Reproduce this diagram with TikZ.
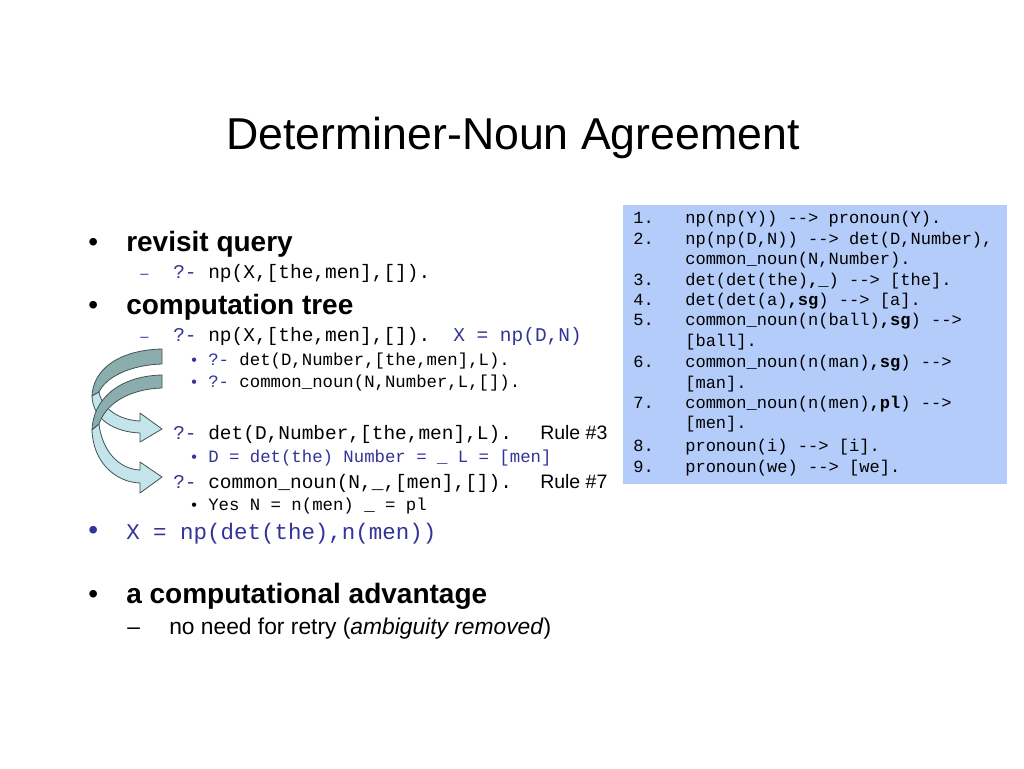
\documentclass[tikz,border=0pt]{standalone}
\usepackage{fontspec}
\setmainfont{Liberation Sans}
\setmonofont{Liberation Mono}

\begin{document}
\begin{tikzpicture}[x=0.75pt,y=-0.75pt,
    txt/.style={anchor=base west,inner sep=0pt},
    titletext/.style={anchor=base,inner sep=0pt,font=\fontsize{33.5}{40}\selectfont},
    headtext/.style={txt,font=\fontsize{21}{25}\selectfont\bfseries},
    bulletone/.style={txt,font=\fontsize{21}{25}\selectfont},
    dashtwo/.style={txt,font=\fontsize{11}{13}\selectfont},
    bulletthree/.style={txt,font=\fontsize{12}{14}\selectfont},
    codeone/.style={txt,font=\fontsize{16.85}{20}\selectfont\ttfamily},
    codetwo/.style={txt,font=\fontsize{14.6}{17}\selectfont\ttfamily},
    codethree/.style={txt,font=\fontsize{13}{15}\selectfont\ttfamily},
    ruletext/.style={txt,font=\fontsize{14.6}{17}\selectfont},
    plaintwo/.style={txt,font=\fontsize{17.1}{20}\selectfont},
    codebox/.style={txt,font=\fontsize{12.8}{15}\selectfont\ttfamily},
    bandback/.style={fill=r140g173b173,draw=r64g84b84,line width=0.6pt,line join=round},
    bandfront/.style={fill=r196g228b236,draw=r64g84b84,line width=0.6pt,line join=round}]

    % \clip (0,0) rectangle (1024,768);
    \useasboundingbox (0,0) rectangle (1024,768);

    % Changing colors
    \definecolor{r51g51b153}{RGB}{51,51,153}%
    \definecolor{r180g204b250}{RGB}{180,204,250}%
    \definecolor{r140g173b173}{RGB}{140,173,173}%
    \definecolor{r196g228b236}{RGB}{196,228,236}%
    \definecolor{r64g84b84}{RGB}{64,84,84}%

    % Filling background
    \fill [white] (0,0) rectangle (1024,768);%

    % Marking title
    \node (title) [titletext] at (513,149) {Determiner-Noun Agreement};%

    % Filling rule box left-top: (623,205) right-bottom: (1007,484)
    \fill [r180g204b250] (623,205) rectangle (1007,484);%

    % Marking rules 1-9
    \node (n1) [codebox] at (633,223) {1.};%
    \node (r1) [codebox] at (685,223) {np(np(Y)) -{}-> pronoun(Y).};%
    \node (n2) [codebox] at (633,244) {2.};%
    \node (r2) [codebox] at (685,244) {np(np(D,N)) -{}-> det(D,Number),};%
    \node (r2b) [codebox] at (685,264) {common\_noun(N,Number).};%
    \node (n3) [codebox] at (633,285) {3.};%
    \node (r3) [codebox] at (685,285) {det(det(the)\textbf{,\_}) -{}-> [the].};%
    \node (n4) [codebox] at (633,305) {4.};%
    \node (r4) [codebox] at (685,305) {det(det(a)\textbf{,sg}) -{}-> [a].};%
    \node (n5) [codebox] at (633,325) {5.};%
    \node (r5) [codebox] at (685,325) {common\_noun(n(ball)\textbf{,sg}) -{}->};%
    \node (r5b) [codebox] at (685,346) {[ball].};%
    \node (n6) [codebox] at (633,367) {6.};%
    \node (r6) [codebox] at (685,367) {common\_noun(n(man)\textbf{,sg}) -{}->};%
    \node (r6b) [codebox] at (685,388) {[man].};%
    \node (n7) [codebox] at (633,408) {7.};%
    \node (r7) [codebox] at (685,408) {common\_noun(n(men)\textbf{,pl}) -{}->};%
    \node (r7b) [codebox] at (685,428) {[men].};%
    \node (n8) [codebox] at (633,451) {8.};%
    \node (r8) [codebox] at (685,451) {pronoun(i) -{}-> [i].};%
    \node (n9) [codebox] at (633,472) {9.};%
    \node (r9) [codebox] at (685,472) {pronoun(we) -{}-> [we].};%

    % Marking bullet: revisit query
    \node (b1) [bulletone] at (88,251) {•};%
    \node (revisit) [headtext] at (126,251) {revisit query};%
    \node (d1) [dashtwo,text=r51g51b153] at (140,278) {–};%
    \node (query) [codetwo] at (173,278) {{\color{r51g51b153}?-} np(X,[the,men],[]).};%

    % Marking bullet: computation tree
    \node (b2) [bulletone] at (88,314) {•};%
    \node (tree) [headtext] at (126,314) {computation tree};%
    \node (d2) [dashtwo,text=r51g51b153] at (140,341) {–};%
    \node (goal) [codetwo] at (173,341) {{\color{r51g51b153}?-} np(X,[the,men],[]).};%
    \node (bind) [codetwo,text=r51g51b153] at (453,341) {X = np(D,N)};%
    \node (s1) [bulletthree,text=r51g51b153] at (191,365) {•};%
    \node (sub1) [codethree] at (208,365) {{\color{r51g51b153}?-} det(D,Number,[the,men],L).};%
    \node (s2) [bulletthree,text=r51g51b153] at (191,387) {•};%
    \node (sub2) [codethree] at (208,387) {{\color{r51g51b153}?-} common\_noun(N,Number,L,[]).};%
    \node (call1) [codetwo] at (173,439) {{\color{r51g51b153}?-} det(D,Number,[the,men],L).};%
    \node (rule3) [ruletext] at (540,439) {Rule \#3};%
    \node (s3) [bulletthree,text=r51g51b153] at (191,462) {•};%
    \node (res1) [codethree,text=r51g51b153] at (208,462) {D = det(the) Number = \_ L = [men]};%
    \node (call2) [codetwo] at (173,488) {{\color{r51g51b153}?-} common\_noun(N,\_,[men],[]).};%
    \node (rule7) [ruletext] at (540,488) {Rule \#7};%
    \node (s4) [bulletthree] at (191,510) {•};%
    \node (res2) [codethree] at (208,510) {Yes N = n(men) \_ = pl};%

    % Marking bullet: answer
    \node (b3) [bulletone,text=r51g51b153] at (88,539) {•};%
    \node (answer) [codeone,text=r51g51b153] at (126,539) {X = np(det(the),n(men))};%

    % Marking bullet: computational advantage
    \node (b4) [bulletone] at (88,603) {•};%
    \node (advantage) [headtext] at (126,603) {a computational advantage};%
    \node (d3) [plaintwo] at (127,634) {–};%
    \node (retry) [plaintwo] at (169,634) {no need for retry (\textit{ambiguity removed})};%

    % Drawing curved arrow 1: tail at (162,349)-(162,364), tip at (162,429)
    \draw [bandback] (162,349) .. controls (118,350) and (93,370) .. (92,396)
        -- (99,392) .. controls (106,377) and (130,365) .. (162,364) -- cycle;%
    \draw [bandfront] (92,396) .. controls (93,420) and (115,432) .. (140,433)
        -- (140,442) -- (162,429) -- (140,413) -- (140,421)
        .. controls (118,420) and (102,408) .. (99,392) -- cycle;%

    % Drawing curved arrow 2: tail at (162,375)-(162,388), tip at (162,477)
    \draw [bandback] (162,375) .. controls (118,376) and (93,400) .. (92,430)
        -- (99,424) .. controls (106,403) and (130,389) .. (162,388) -- cycle;%
    \draw [bandfront] (92,430) .. controls (93,462) and (115,482) .. (140,483)
        -- (140,493) -- (162,477) -- (140,462) -- (140,470)
        .. controls (118,469) and (102,450) .. (99,424) -- cycle;%
\end{tikzpicture}
\end{document}
